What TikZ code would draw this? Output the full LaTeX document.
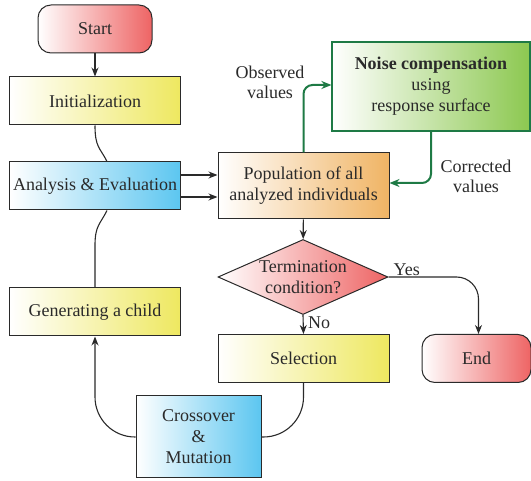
\documentclass[tikz,border=0pt]{standalone}
\usepackage{fontspec}
\setmainfont{Liberation Serif}
\usetikzlibrary{arrows.meta,shapes.geometric}
\definecolor{cred}{HTML}{EE6464}
\definecolor{cyel}{HTML}{EEE860}
\definecolor{ccyan}{HTML}{5CC6F0}
\definecolor{corange}{HTML}{F0B464}
\definecolor{cgreen}{HTML}{8CC850}
\definecolor{dgreen}{HTML}{1E7A45}
\definecolor{lcol}{HTML}{2A2A2A}
\begin{document}
\begin{tikzpicture}[x=1pt,y=-1pt,
  every node/.style={font=\fontsize{18}{21}\selectfont, text=lcol, align=center},
  box/.style={draw=lcol, line width=1pt, rectangle, minimum width=171pt, minimum height=48pt, inner sep=2pt},
  yel/.style={box, left color=white, right color=cyel},
  cya/.style={box, left color=white, right color=ccyan},
  term/.style={draw=lcol, line width=1pt, rectangle, rounded corners=13pt, left color=white, right color=cred, minimum height=48pt},
  conn/.style={draw=lcol, line width=1.1pt},
  arr/.style={conn, -{Stealth[length=9pt,width=7pt]}},
  garr/.style={draw=dgreen, line width=2pt, rounded corners=9pt, -{Stealth[length=10pt,width=8pt]}},
  lbl/.style={font=\fontsize{18}{20}\selectfont}
]
\useasboundingbox (0,0) rectangle (531,481);

\node[term, minimum width=114pt] (start) at (95,29) {Start};
\node[yel] (init) at (95,101) {Initialization};
\node[cya] (ana) at (95,186) {Analysis \& Evaluation};
\node[yel] (gen) at (95,312) {Generating a child};
\node[cya, minimum width=125pt, minimum height=82pt] (cross) at (198.5,437) {Crossover\\\&\\Mutation};
\node[box, left color=white, right color=corange, minimum height=66pt] (pop) at (303.5,186) {Population of all\\analyzed individuals};
\node[draw=dgreen, line width=1.2pt, rectangle, left color=white, right color=cgreen, minimum width=198pt, minimum height=89pt] (noise) at (431,86.5) {\textbf{Noise compensation}\\using\\response surface};
\node[diamond, draw=lcol, line width=1pt, left color=white, right color=cred, minimum width=170pt, minimum height=75pt, inner sep=0pt] (dia) at (303,277) {};
\node (diat) at (303,277) {Termination\\condition?};
\node[yel] (sel) at (303.5,358.5) {Selection};
\node[term, minimum width=109pt] (end) at (476.5,358.5) {End};

% connectors
\draw[arr] (start) -- (init);
\draw[conn] (init.south) .. controls +(0,22) and +(-7,-14) .. ([xshift=12pt]ana.north);
\draw[conn] (gen.north) -- ++(0,-42) .. controls +(0,-20) and +(-7,14) .. ([xshift=12pt]ana.south);
\draw[arr] ([yshift=11pt]ana.east) -- ([yshift=11pt]pop.west);
\draw[arr] ([yshift=-11pt]ana.east) -- ([yshift=-11pt]pop.west);
\draw[garr] (pop.north) |- ([yshift=1.5pt]noise.west);
\draw[garr] (noise.south) |- ([yshift=3pt]pop.east);
\node[lbl] (obs) at (270,82) {Observed\\values};
\node[lbl] (cor) at (476,176.5) {Corrected\\values};
\draw[arr] (pop) -- (dia);
\draw[arr, rounded corners=22pt] (dia.east) -| ([xshift=2pt]end.north);
\node[lbl, anchor=south west, inner sep=1pt] at ([xshift=4pt,yshift=0pt]dia.east) {Yes};
\draw[arr] (dia.south) -- (sel.north);
\node[lbl, anchor=west, inner sep=1pt] at (307,323) {No};
\draw[conn, rounded corners=40pt] (sel.south) |- (cross.east);
\draw[arr, rounded corners=40pt] (cross.west) -| (gen.south);
\end{tikzpicture}
\end{document}
